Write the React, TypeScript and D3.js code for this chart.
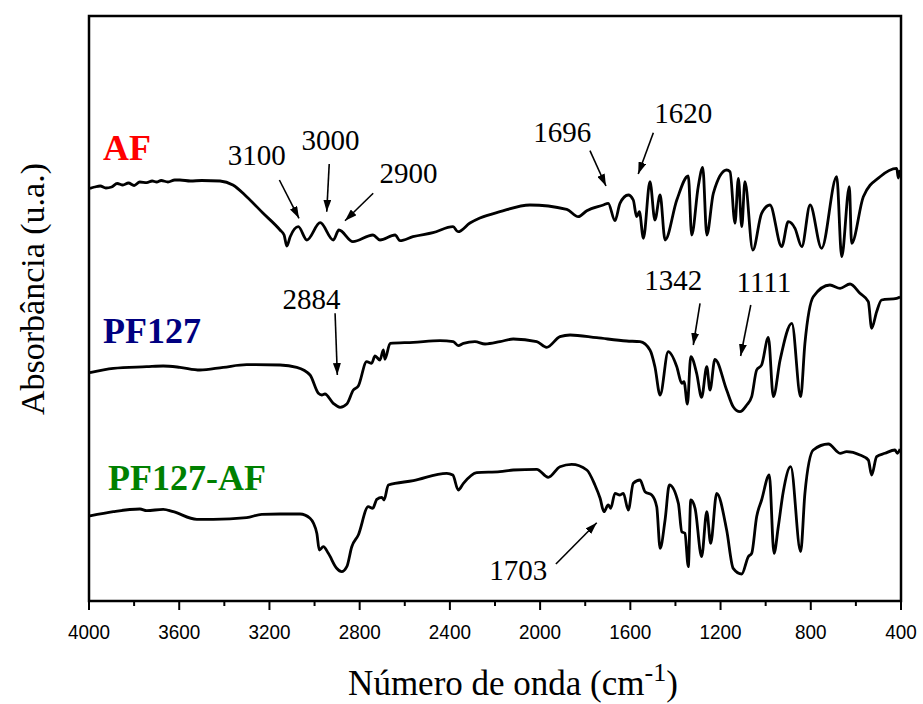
import React from "react";
import * as d3 from "d3";

// spectra: [wavenumber cm-1, absorbance u.a. (stacked)]
const afSpectrum: [number, number][] = [
  [3996, 4.127], [3975, 4.14], [3950, 4.15], [3925, 4.13], [3900, 4.14], [3875, 4.175],
  [3850, 4.16], [3825, 4.18], [3800, 4.155], [3775, 4.19], [3744, 4.183], [3720, 4.2],
  [3700, 4.19], [3680, 4.205], [3650, 4.19], [3620, 4.21], [3597, 4.21], [3550, 4.2],
  [3500, 4.205], [3419, 4.2], [3362, 4.16], [3301, 4.043], [3229, 3.88], [3153, 3.71],
  [3135, 3.66], [3123, 3.55], [3108, 3.643], [3072, 3.743], [3034, 3.61], [2975, 3.783],
  [2917, 3.61], [2892, 3.71], [2830, 3.593], [2741, 3.66], [2710, 3.61], [2643, 3.66],
  [2621, 3.603], [2564, 3.643], [2475, 3.683], [2386, 3.743], [2364, 3.693], [2311, 3.78],
  [2267, 3.83], [2178, 3.893], [2045, 3.96], [1882, 3.917], [1831, 3.843], [1793, 3.903],
  [1720, 3.96], [1698, 3.977], [1668, 3.803], [1646, 3.977], [1609, 4.06], [1587, 4.01],
  [1572, 3.843], [1560, 3.893], [1542, 3.627], [1513, 4.193], [1491, 3.81], [1468, 4.06],
  [1446, 3.61], [1394, 4.01], [1343, 4.25], [1328, 3.66], [1299, 4.143], [1279, 4.337],
  [1261, 3.66], [1232, 4.077], [1173, 4.31], [1158, 4.293], [1136, 3.777], [1121, 4.227],
  [1106, 3.743], [1092, 4.193], [1057, 3.51], [1018, 3.877], [981, 3.96], [929, 3.543],
  [900, 3.793], [870, 3.727], [840, 3.543], [803, 3.96], [752, 3.527], [685, 4.243],
  [663, 3.443], [629, 4.143], [619, 3.577], [567, 4.043], [493, 4.243], [419, 4.327],
  [412, 4.23], [404, 4.31],
];

const pf127Spectrum: [number, number][] = [
  [3996, 2.283], [3892, 2.327], [3744, 2.343], [3671, 2.35], [3597, 2.337], [3508, 2.31],
  [3405, 2.337], [3301, 2.363], [3153, 2.36], [3079, 2.337], [3020, 2.26], [2983, 2.077],
  [2968, 2.06], [2954, 2.07], [2917, 1.977], [2887, 1.937], [2857, 1.97], [2828, 2.11],
  [2806, 2.15], [2769, 2.393], [2747, 2.377], [2732, 2.45], [2710, 2.41], [2695, 2.51],
  [2688, 2.417], [2665, 2.577], [2562, 2.587], [2444, 2.603], [2385, 2.593], [2363, 2.553],
  [2340, 2.577], [2289, 2.593], [2244, 2.57], [2178, 2.593], [2119, 2.62], [2015, 2.593],
  [1971, 2.537], [1912, 2.643], [1867, 2.66], [1749, 2.633], [1616, 2.6], [1557, 2.593],
  [1513, 2.51], [1491, 2.343], [1468, 2.06], [1432, 2.493], [1394, 2.343], [1372, 2.177],
  [1362, 2.193], [1347, 1.97], [1332, 2.443], [1306, 2.277], [1284, 2.037], [1261, 2.343],
  [1247, 2.11], [1225, 2.417], [1173, 2.11], [1144, 1.943], [1114, 1.893], [1084, 1.96],
  [1062, 2.043], [1040, 2.31], [1018, 2.36], [988, 2.637], [966, 2.043], [936, 2.41],
  [884, 2.777], [845, 2.043], [826, 2.577], [789, 3.043], [715, 3.16], [670, 3.127],
  [626, 3.17], [582, 3.077], [545, 2.993], [530, 2.727], [508, 2.893], [486, 3.01],
  [419, 3.027], [404, 3.04],
];

const pf127afSpectrum: [number, number][] = [
  [3996, 0.85], [3892, 0.893], [3774, 0.92], [3744, 0.903], [3671, 0.917], [3626, 0.893],
  [3522, 0.817], [3449, 0.817], [3301, 0.833], [3234, 0.867], [3153, 0.87], [3064, 0.87],
  [3020, 0.827], [2990, 0.677], [2979, 0.51], [2961, 0.543], [2939, 0.477], [2902, 0.327],
  [2880, 0.293], [2857, 0.343], [2835, 0.543], [2806, 0.66], [2762, 0.943], [2742, 0.927],
  [2724, 1.017], [2702, 1.037], [2692, 1.01], [2673, 1.16], [2562, 1.203], [2414, 1.277],
  [2387, 1.26], [2363, 1.11], [2340, 1.177], [2281, 1.283], [2178, 1.293], [2119, 1.31],
  [2015, 1.317], [1964, 1.237], [1912, 1.343], [1860, 1.367], [1793, 1.31], [1757, 1.16],
  [1734, 1.027], [1717, 0.893], [1698, 0.96], [1687, 0.927], [1668, 1.077], [1646, 1.06],
  [1631, 1.077], [1609, 0.91], [1587, 1.177], [1557, 1.21], [1535, 1.093], [1505, 1.06],
  [1483, 0.943], [1468, 0.527], [1446, 0.81], [1427, 1.16], [1387, 0.977], [1372, 0.693],
  [1358, 0.677], [1343, 0.343], [1332, 1.01], [1313, 0.927], [1284, 0.443], [1261, 0.893],
  [1244, 0.577], [1217, 1.077], [1173, 0.71], [1144, 0.327], [1106, 0.27], [1077, 0.443],
  [1062, 0.477], [1040, 0.843], [1018, 1.01], [984, 1.26], [963, 0.477], [944, 0.743],
  [922, 1.093], [889, 1.343], [845, 0.493], [826, 1.077], [789, 1.51], [722, 1.57],
  [670, 1.477], [641, 1.493], [582, 1.46], [545, 1.41], [530, 1.26], [508, 1.443],
  [471, 1.477], [427, 1.51], [416, 1.477], [404, 1.52],
];

const sampleNames = ["AF", "PF127", "PF127-AF"];
const sampleColors = ["#ff0000", "#000080", "#008000"];
// label anchor [wavenumber, absorbance]
const sampleLabelPos: [number, number][] = [[3938, 4.41], [3938, 2.583], [3916, 1.11]];

// band annotations: text, label pos, arrow start, arrow tip
const bandLabels = ["3100", "3000", "2900", "1696", "1620", "2884", "1342", "1111", "1703"];
const bandLabelPos: [number, number][] = [
  [3256, 4.36], [2929, 4.51], [2584, 4.183], [1902, 4.593], [1365, 4.777],
  [3014, 2.917], [1410, 3.11], [1008, 3.093], [2097, 0.21],
];
const bandArrowFrom: [number, number][] = [
  [3156, 4.21], [2935, 4.37], [2740, 4.077], [1779, 4.503], [1498, 4.683],
  [2909, 2.877], [1291, 2.977], [1066, 2.96], [1930, 0.37],
];
const bandArrowTo: [number, number][] = [
  [3069, 3.827], [2946, 3.893], [2865, 3.803], [1708, 4.15], [1565, 4.27],
  [2899, 2.26], [1321, 2.56], [1111, 2.45], [1749, 0.783],
];

const majorTicks = [4000, 3600, 3200, 2800, 2400, 2000, 1600, 1200, 800, 400];
const minorTicks = [3800, 3400, 3000, 2600, 2200, 1800, 1400, 1000, 600];

export default function App() {
  const width = 923;
  const height = 704;
  const left = 89, right = 901, top = 16, bottom = 601;

  const x = d3.scaleLinear().domain([4000, 400]).range([left, right]);
  const y = d3.scaleLinear().domain([0, 5.85]).range([bottom, top]);

  const line = d3
    .line<[number, number]>()
    .x((d) => x(d[0]))
    .y((d) => y(d[1]))
    .curve(d3.curveMonotoneX);

  const spectra = [afSpectrum, pf127Spectrum, pf127afSpectrum];
  const serif = "'Liberation Serif', 'Times New Roman', serif";
  const sans = "'Liberation Sans', Arial, sans-serif";

  return (
    <svg
      width={width}
      height={height}
      style={{ position: "absolute", left: 0, top: 0, background: "#fff" }}
    >
      <defs>
        <marker
          id="arrow"
          viewBox="0 0 12 8"
          refX="12"
          refY="4"
          markerWidth="12"
          markerHeight="8"
          markerUnits="userSpaceOnUse"
          orient="auto"
        >
          <path d="M0,0 L12,4 L0,8 Z" fill="#000" />
        </marker>
      </defs>

      {/* spectra */}
      {spectra.map((s, i) => (
        <path
          key={i}
          d={line(s) || ""}
          fill="none"
          stroke="#000"
          strokeWidth={2.8}
          strokeLinejoin="round"
        />
      ))}

      {/* frame */}
      <rect
        x={left}
        y={top}
        width={right - left}
        height={bottom - top}
        fill="none"
        stroke="#000"
        strokeWidth={2.5}
      />

      {/* bottom ticks */}
      {majorTicks.map((t) => (
        <g key={t}>
          <line x1={x(t)} x2={x(t)} y1={bottom} y2={bottom + 9} stroke="#000" strokeWidth={2} />
          <text
            x={x(t)}
            y={639}
            textAnchor="middle"
            fontFamily={sans}
            fontSize={21}
            transform={`translate(${x(t)},0) scale(0.9,1) translate(${-x(t)},0)`}
          >
            {t}
          </text>
        </g>
      ))}
      {minorTicks.map((t) => (
        <line key={t} x1={x(t)} x2={x(t)} y1={bottom} y2={bottom + 5} stroke="#000" strokeWidth={2} />
      ))}

      {/* axis titles */}
      <text x={513} y={695} textAnchor="middle" fontFamily={serif} fontSize={35}>
        Número de onda (cm
        <tspan dy={-14} fontSize={26}>-1</tspan>
        <tspan dy={14}>)</tspan>
      </text>
      <text
        transform={`translate(44,289) rotate(-90)`}
        textAnchor="middle"
        fontFamily={serif}
        fontSize={34}
      >
        Absorbância (u.a.)
      </text>

      {/* sample labels */}
      {sampleNames.map((n, i) => (
        <text
          key={n}
          x={x(sampleLabelPos[i][0])}
          y={y(sampleLabelPos[i][1])}
          fill={sampleColors[i]}
          fontFamily={serif}
          fontWeight="bold"
          fontSize={36}
        >
          {n}
        </text>
      ))}

      {/* band annotations */}
      {bandLabels.map((b, i) => (
        <g key={b}>
          <text
            x={x(bandLabelPos[i][0])}
            y={y(bandLabelPos[i][1])}
            textAnchor="middle"
            fontFamily={serif}
            fontSize={29}
          >
            {b}
          </text>
          <line
            x1={x(bandArrowFrom[i][0])}
            y1={y(bandArrowFrom[i][1])}
            x2={x(bandArrowTo[i][0])}
            y2={y(bandArrowTo[i][1])}
            stroke="#000"
            strokeWidth={1.6}
            markerEnd="url(#arrow)"
          />
        </g>
      ))}
    </svg>
  );
}
